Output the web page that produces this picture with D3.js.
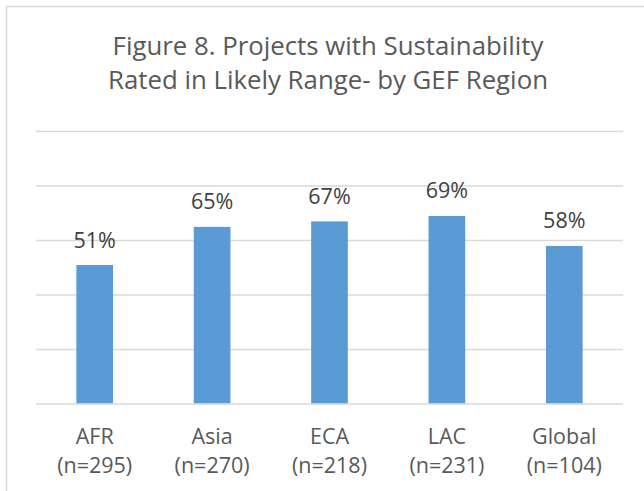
<!DOCTYPE html>
<html>
<head>
<meta charset="utf-8">
<script src="https://cdn.jsdelivr.net/npm/d3@7"></script>
<style>
  html, body { margin: 0; padding: 0; background: #ffffff; }
  svg { display: block; }
  text { font-family: "Open Sans", Calibri, sans-serif; }
</style>
</head>
<body>
<svg id="chart" width="644" height="491"></svg>
<script>
const titleLines = ["Figure 8. Projects with Sustainability", "Rated in Likely Range- by GEF Region"];
const regions = ["AFR", "Asia", "ECA", "LAC", "Global"];
const sampleSizes = ["(n=295)", "(n=270)", "(n=218)", "(n=231)", "(n=104)"];
const values = [0.51, 0.65, 0.67, 0.69, 0.58];
const gridTicks = [0, 0.2, 0.4, 0.6, 0.8, 1.0];

const svg = d3.select("#chart");
const plot = { left: 36, right: 623, top: 131.5, bottom: 404 };

// chart border (only top & left visible in the crop)
svg.append("rect")
  .attr("x", 6.5).attr("y", 6.5)
  .attr("width", 700).attr("height", 600)
  .attr("fill", "#ffffff")
  .attr("stroke", "#d9d9d9").attr("stroke-width", 1.5);

// title
const title = svg.append("text")
  .attr("text-anchor", "middle")
  .attr("fill", "#595959")
  .style("font-size", "25.8px");
titleLines.forEach((t, i) => {
  title.append("tspan").attr("x", 328).attr("y", 55 + i * 33.5).text(t);
});

const x = d3.scaleBand()
  .domain(regions)
  .range([plot.left, plot.right])
  .paddingInner(0.6875)
  .paddingOuter(0.34375);

const y = d3.scaleLinear().domain([0, 1]).range([plot.bottom, plot.top]);

// gridlines
svg.append("g").selectAll("line")
  .data(gridTicks)
  .join("line")
  .attr("x1", plot.left).attr("x2", plot.right)
  .attr("y1", d => y(d)).attr("y2", d => y(d))
  .attr("stroke", "#d9d9d9").attr("stroke-width", 1.5);

// bars
svg.append("g").selectAll("rect")
  .data(values)
  .join("rect")
  .attr("x", (d, i) => x(regions[i]))
  .attr("width", x.bandwidth())
  .attr("y", d => y(d))
  .attr("height", d => y(0) - y(d) - 0.75)
  .attr("fill", "#5b9bd5");

// data labels
svg.append("g").selectAll("text")
  .data(values)
  .join("text")
  .attr("x", (d, i) => x(regions[i]) + x.bandwidth() / 2)
  .attr("y", d => y(d) - 17.5)
  .attr("text-anchor", "middle")
  .attr("fill", "#404040")
  .style("font-size", "21.5px")
  .text(d => Math.round(d * 100) + "%");

// category labels (two lines)
const cat = svg.append("g").selectAll("text")
  .data(regions)
  .join("text")
  .attr("text-anchor", "middle")
  .attr("fill", "#595959")
  .style("font-size", "21.5px");
cat.append("tspan")
  .attr("x", d => x(d) + x.bandwidth() / 2)
  .attr("y", 444)
  .text(d => d);
cat.append("tspan")
  .attr("x", d => x(d) + x.bandwidth() / 2)
  .attr("y", 472.5)
  .text((d, i) => sampleSizes[i]);
</script>
</body>
</html>
